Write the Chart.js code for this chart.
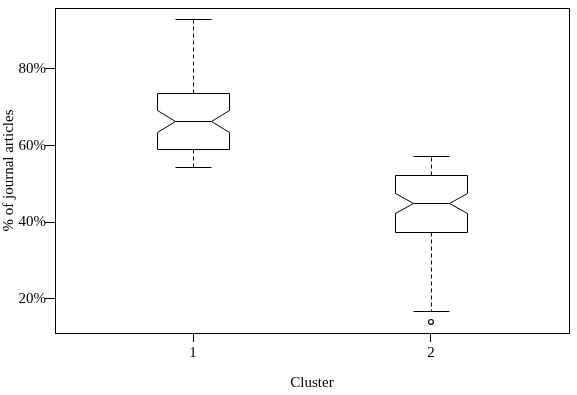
<!DOCTYPE html>
<html>
<head>
<meta charset="utf-8">
<script src="https://cdn.jsdelivr.net/npm/chart.js@4/dist/chart.umd.min.js"></script>
<style>
  html, body { margin: 0; padding: 0; background: #fff; }
  #wrap { width: 577px; height: 395px; position: relative; }
</style>
</head>
<body>
<div id="wrap"><canvas id="box"></canvas></div>
<script>
// Box statistics per cluster (values in %)
const clusters = [1, 2];
const whiskerLow = [54.4, 16.9];
const q1 = [59.0, 37.5];
const medians = [66.3, 45.0];
const q3 = [73.7, 52.4];
const whiskerHigh = [93.0, 57.3];
const notchLow = [63.6, 42.3];
const notchHigh = [69.3, 47.7];

// Outliers
const outlierCluster = [2];
const outlierValue = [14.0];

const yTicks = [20, 40, 60, 80];

const BOX_HALF = 0.15;   // half box width in x units
const CAP_HALF = 0.075;  // half staple width
const FONT = { family: '"Liberation Serif", "Times New Roman", serif', size: 15 };

const px = v => Math.round(v) + 0.5;

// draws the notched boxes and whiskers through the chart scales
const notchedBoxes = {
  id: 'notchedBoxes',
  afterDatasetsDraw(chart) {
    const { ctx, scales: { x, y }, chartArea: a } = chart;
    ctx.save();
    ctx.strokeStyle = '#000';
    ctx.lineWidth = 1;

    clusters.forEach((c, i) => {
      const l = px(x.getPixelForValue(c - BOX_HALF));
      const r = px(x.getPixelForValue(c + BOX_HALF));
      const nl = px(x.getPixelForValue(c - BOX_HALF / 2));
      const nr = px(x.getPixelForValue(c + BOX_HALF / 2));
      const cx = px(x.getPixelForValue(c));
      const yq1 = px(y.getPixelForValue(q1[i]));
      const yq3 = px(y.getPixelForValue(q3[i]));
      const ym = px(y.getPixelForValue(medians[i]));
      const ynl = px(y.getPixelForValue(notchLow[i]));
      const ynh = px(y.getPixelForValue(notchHigh[i]));
      const ywl = px(y.getPixelForValue(whiskerLow[i]));
      const ywh = px(y.getPixelForValue(whiskerHigh[i]));

      // notched box
      ctx.setLineDash([]);
      ctx.beginPath();
      ctx.moveTo(l, yq3);
      ctx.lineTo(r, yq3);
      ctx.lineTo(r, ynh);
      ctx.lineTo(nr, ym);
      ctx.lineTo(r, ynl);
      ctx.lineTo(r, yq1);
      ctx.lineTo(l, yq1);
      ctx.lineTo(l, ynl);
      ctx.lineTo(nl, ym);
      ctx.lineTo(l, ynh);
      ctx.closePath();
      ctx.stroke();

      // median
      ctx.beginPath();
      ctx.moveTo(nl, ym);
      ctx.lineTo(nr, ym);
      ctx.stroke();

      // staples
      const cl = px(x.getPixelForValue(c - CAP_HALF));
      const cr = px(x.getPixelForValue(c + CAP_HALF));
      ctx.beginPath();
      ctx.moveTo(cl, ywh); ctx.lineTo(cr, ywh);
      ctx.moveTo(cl, ywl); ctx.lineTo(cr, ywl);
      ctx.stroke();

      // dashed whiskers
      ctx.setLineDash([4, 3]);
      ctx.beginPath();
      ctx.moveTo(cx, yq3); ctx.lineTo(cx, ywh);
      ctx.moveTo(cx, yq1); ctx.lineTo(cx, ywl);
      ctx.stroke();
    });

    // plot frame
    ctx.setLineDash([]);
    ctx.strokeRect(px(a.left), px(a.top), Math.round(a.right - a.left), Math.round(a.bottom - a.top));
    ctx.restore();
  }
};

new Chart(document.getElementById('box'), {
  type: 'scatter',
  data: {
    datasets: [{
      label: 'Outliers',
      data: outlierCluster.map((c, i) => ({ x: c, y: outlierValue[i] })),
      pointStyle: 'circle',
      pointRadius: 2.4,
      borderColor: '#000',
      borderWidth: 1.2,
      backgroundColor: 'rgba(0,0,0,0)'
    }]
  },
  options: {
    responsive: true,
    maintainAspectRatio: false,
    animation: false,
    layout: { padding: { top: 8, right: 8, left: 0, bottom: 0 } },
    plugins: { legend: { display: false }, tooltip: { enabled: false } },
    scales: {
      x: {
        type: 'linear',
        min: 0.42,
        max: 2.58,
        afterBuildTicks: s => { s.ticks = clusters.map(v => ({ value: v })); },
        afterFit: s => { s.height = 62; },
        grid: { drawOnChartArea: false, drawTicks: true, tickLength: 9, color: '#000' },
        border: { display: false },
        ticks: { color: '#000', font: FONT, padding: 2, maxRotation: 0, callback: v => String(v) },
        title: { display: true, text: 'Cluster', color: '#000', font: FONT, padding: { top: 0, bottom: 3 } }
      },
      y: {
        min: 11.1,
        max: 95.9,
        afterBuildTicks: s => { s.ticks = yTicks.map(v => ({ value: v })); },
        afterFit: s => { s.width = 55; },
        grid: { drawOnChartArea: false, drawTicks: true, tickLength: 10, color: '#000' },
        border: { display: false },
        ticks: { color: '#000', font: FONT, padding: -1, callback: v => v + '%' },
        title: { display: true, text: '% of journal articles', color: '#000', font: FONT, padding: { top: 0, bottom: 0 } }
      }
    }
  },
  plugins: [notchedBoxes]
});
</script>
</body>
</html>
